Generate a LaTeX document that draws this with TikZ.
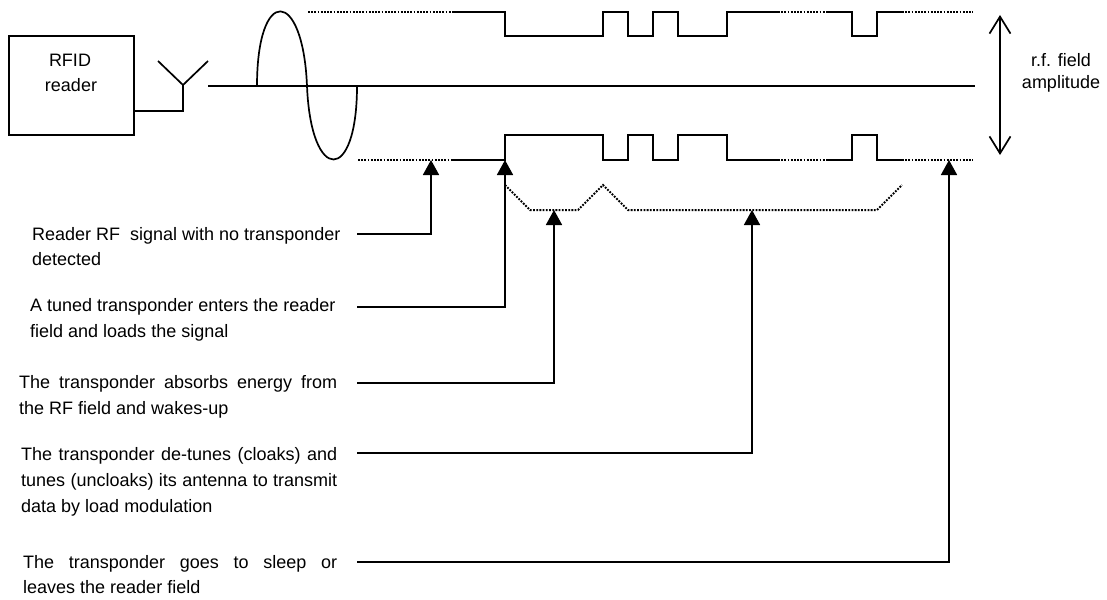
\documentclass[tikz,border=0pt]{standalone}
\usepackage{fontspec}
\setmainfont{Liberation Sans}
\usetikzlibrary{arrows.meta}
\begin{document}
\begin{tikzpicture}[x=1pt,y=-1pt,
  wire/.style={line width=1.7pt},
  dots/.style={line width=2pt, dash pattern=on 1.8pt off 1.4pt},
  lbl/.style={anchor=base west, inner sep=0pt, font=\fontsize{18}{26}\selectfont},
  ptr/.style={line width=1.7pt, -{Triangle[length=15pt,width=16pt]}},
  barb/.style={line width=1.7pt, {Straight Barb[length=17pt,width=21pt]}-{Straight Barb[length=17pt,width=21pt]}},
]
\useasboundingbox[fill=white] (0,0) rectangle (1107,599);

% reader box and antenna
\node[draw, line width=1.7pt, minimum width=125pt, minimum height=99pt, inner sep=0pt] (reader) at (71.5,85.5) {};
\node[lbl, anchor=base] (rfid) at (70,67) {RFID};
\node[lbl, anchor=base] (rdr) at (71,92) {reader};
\coordinate (feed) at (134,111);
\coordinate (apex) at (183,85);
\coordinate (armL) at (158,61);
\coordinate (armR) at (208,61);
\draw[wire] (feed) -| (apex);
\draw[wire] (armL) -- (apex) -- (armR);

% axis
\coordinate (axL) at (208,86);
\coordinate (axR) at (975,86);
\draw[wire] (axL) -- (axR);

% sine
\draw[wire] (257,86) .. controls (257,-15) and (303,-12) .. (307,86)
  .. controls (311,184) and (357,184) .. (357,86);

% top trace
\draw[dots] (308,12) -- (453,12);
\draw[wire] (453,12) -- (505,12) -- (505,36) -- (603,36) -- (603,12) -- (628,12) -- (628,36)
  -- (653,36) -- (653,12) -- (678,12) -- (678,36) -- (727,36) -- (727,12) -- (778,12);
\draw[dots] (778,12) -- (827,12);
\draw[wire] (827,12) -- (852,12) -- (852,36) -- (877,36) -- (877,12) -- (902,12);
\draw[dots] (902,12) -- (973,12);

% bottom trace
\draw[dots] (358,160) -- (453,160);
\draw[wire] (453,160) -- (505,160) -- (505,135) -- (603,135) -- (603,160) -- (628,160) -- (628,135)
  -- (653,135) -- (653,160) -- (678,160) -- (678,135) -- (727,135) -- (727,160) -- (778,160);
\draw[dots] (778,160) -- (827,160);
\draw[wire] (827,160) -- (852,160) -- (852,135) -- (877,135) -- (877,160) -- (902,160);
\draw[dots] (902,160) -- (973,160);

% envelope
\draw[dots] (505,185) -- (530,210) -- (578,210) -- (603,185) -- (628,210) -- (877,210) -- (902,185);

% amplitude arrow
\coordinate (amT) at (1000,15);
\coordinate (amB) at (1000,155);
\draw[barb] (amT) -- (amB);
\node[lbl, anchor=base] (rf1) at (1061,67) {r.f. field};
\node[lbl, anchor=base] (rf2) at (1061,89) {amplitude};

% labels
\node[lbl] (t1a) at (32,240) {Reader RF\ \ signal with no transponder};
\node[lbl] (t1b) at (32,265) {detected};
\node[lbl] (t2a) at (30,311) {A tuned transponder enters the reader};
\node[lbl] (t2b) at (30,337) {field and loads the signal};
\node[lbl] (t3a) at (19,388) {\makebox[318pt][s]{The transponder absorbs energy from}};
\node[lbl] (t3b) at (19,414) {the RF field and wakes-up};
\node[lbl] (t4a) at (21,460) {\makebox[316pt][s]{The transponder de-tunes (cloaks) and}};
\node[lbl] (t4b) at (21,486) {\makebox[316pt][s]{tunes (uncloaks) its antenna to transmit}};
\node[lbl] (t4c) at (21,512) {data by load modulation};
\node[lbl] (t5a) at (23,568) {\makebox[314pt][s]{The transponder goes to sleep or}};
\node[lbl] (t5b) at (23,593) {leaves the reader field};

% pointers
\coordinate (tip1) at (431,160);
\coordinate (tip2) at (505,160);
\coordinate (tip3) at (554,210);
\coordinate (tip4) at (752,210);
\coordinate (tip5) at (949,160);
\coordinate (c1) at (357,234);
\coordinate (c2) at (357,307);
\coordinate (c3) at (357,383);
\coordinate (c4) at (357,453);
\coordinate (c5) at (357,562);
\draw[ptr] (c1) -| (tip1);
\draw[ptr] (c2) -| (tip2);
\draw[ptr] (c3) -| (tip3);
\draw[ptr] (c4) -| (tip4);
\draw[ptr] (c5) -| (tip5);
\end{tikzpicture}
\end{document}
